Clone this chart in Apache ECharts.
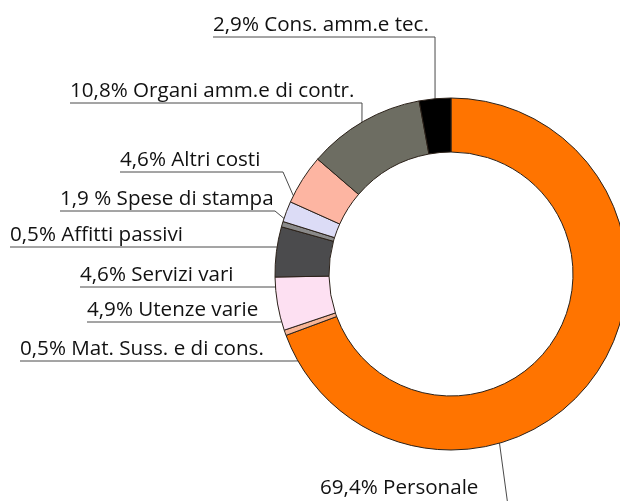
<!DOCTYPE html>
<html>
<head>
<meta charset="utf-8">
<script src="https://cdn.jsdelivr.net/npm/echarts@6/dist/echarts.min.js"></script>
<style>
  html, body { margin: 0; padding: 0; background: #fff; }
  #chart { width: 620px; height: 501px; }
</style>
</head>
<body>
<div id="chart"></div>
<script>
// voci di costo (in senso orario da ore 12)
const categories = ['Personale', 'Mat. Suss. e di cons.', 'Utenze varie', 'Servizi vari', 'Affitti passivi',
    'Spese di stampa', 'Altri costi', 'Organi amm.e di contr.', 'Cons. amm.e tec.'];
const percentages = [69.4, 0.5, 4.9, 4.6, 0.5, 1.9, 4.6, 10.8, 2.9];
const percentSeparators = ['', '', '', '', '', ' ', '', '', ''];

const sliceColors = ['#ff7400', '#f7b596', '#fde0f2', '#4b4b4d', '#8a8a8a',
    '#dcdcf6', '#fdb5a2', '#6d6d62', '#000000'];

// posizione delle etichette: testo a sinistra, sottolineatura, gomito, angolo sul bordo esterno
const labelPlaces = [
    { left: 320, lineY: 506, elbowX: 508, elbowY: 506, angle: 164, gap: 7 },
    { left: 20, lineY: 361, elbowX: 293, elbowY: 361, angle: 240.4 },
    { left: 87, lineY: 322, elbowX: 280, elbowY: 322, angle: 254.2 },
    { left: 80, lineY: 287, elbowX: 276, elbowY: 287, angle: 265.8 },
    { left: 10, lineY: 247, elbowX: 276, elbowY: 247, angle: 278.8 },
    { left: 60, lineY: 211, elbowX: 275, elbowY: 211, angle: 288.4 },
    { left: 120, lineY: 172, elbowX: 283, elbowY: 172, angle: 296.4 },
    { left: 70, lineY: 103, elbowX: 362, elbowY: 103, angle: 329.6 },
    { left: 213, lineY: 37, elbowX: 435, elbowY: 37, angle: 354.8 }
];

const cx = 451, cy = 274, outerR = 176, innerR = 122;

const formatPct = (v, i) => v.toFixed(1).replace('.', ',') + percentSeparators[i] + '%';

const chart = echarts.init(document.getElementById('chart'));

const option = {
    backgroundColor: '#fff',
    animation: false,
    series: [
        {
            type: 'pie',
            center: [cx, cy],
            radius: [innerR, outerR],
            startAngle: 90,
            clockwise: true,
            avoidLabelOverlap: false,
            itemStyle: {
                borderColor: '#2b2119',
                borderWidth: 1
            },
            label: {
                show: true,
                color: '#111',
                fontFamily: 'Open Sans',
                fontSize: 20.6,
                formatter: p => formatPct(p.value, p.dataIndex) + ' ' + p.name
            },
            labelLine: {
                show: true,
                lineStyle: { color: '#4a4a4a', width: 1 }
            },
            labelLayout: params => {
                const pl = labelPlaces[params.dataIndex];
                const a = pl.angle * Math.PI / 180;
                const end = [cx + outerR * Math.sin(a), cy - outerR * Math.cos(a)];
                return {
                    x: pl.left,
                    y: pl.lineY - (pl.gap || 1),
                    align: 'left',
                    verticalAlign: 'bottom',
                    hideOverlap: false,
                    labelLinePoints: [end, [pl.elbowX, pl.elbowY], [pl.left, pl.lineY]]
                };
            },
            data: categories.map((name, i) => ({
                name,
                value: percentages[i],
                itemStyle: { color: sliceColors[i] }
            }))
        }
    ]
};

chart.setOption(option);
</script>
</body>
</html>
